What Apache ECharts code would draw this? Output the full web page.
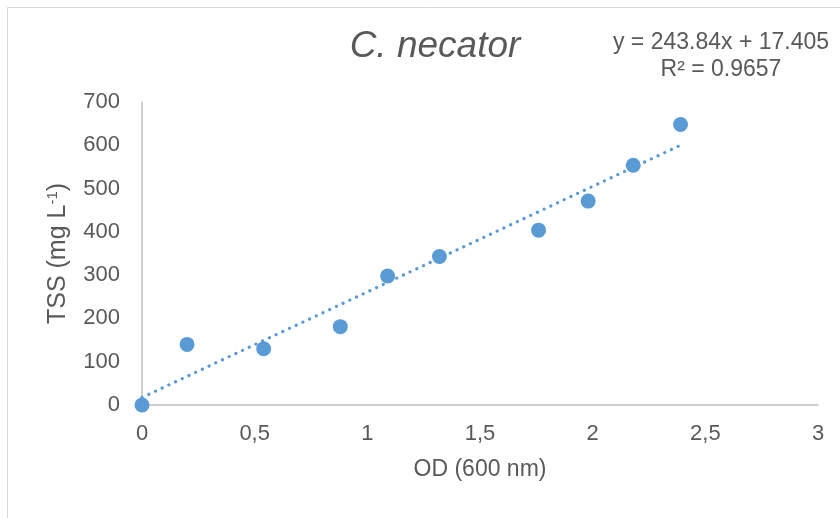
<!DOCTYPE html>
<html>
<head>
<meta charset="utf-8">
<script src="https://cdn.jsdelivr.net/npm/echarts@6/dist/echarts.min.js"></script>
<style>html,body{margin:0;padding:0;background:#fff}#c{width:840px;height:518px}</style>
</head>
<body>
<div id="c"></div>
<script>
const odValues = [0, 0.2, 0.54, 0.88, 1.09, 1.32, 1.76, 1.98, 2.18, 2.39];
const tssValues = [0, 140, 130, 181, 298, 343, 404, 471, 554, 648];
const trendPoints = [[0, 17.4], [2.39, 600.2]];
const xTicks = ['0', '0,5', '1', '1,5', '2', '2,5', '3'];
const titleText = 'C. necator';
const equationText = 'y = 243.84x + 17.405';
const r2Text = 'R² = 0.9657';

const chart = echarts.init(document.getElementById('c'), null, {renderer: 'canvas'});
const txt = '#595959';
const ff = 'Liberation Sans';
chart.setOption({
  animation: false,
  backgroundColor: '#fff',
  graphic: [
    {type: 'rect', shape: {x: 7.5, y: 7.5, width: 850, height: 520}, style: {fill: 'none', stroke: '#d9d9d9', lineWidth: 1}, silent: true, z: -1},
    {type: 'text', x: 435, y: 47, style: {text: titleText, fontFamily: ff, fontStyle: 'italic', fontSize: 37, fill: txt, textAlign: 'center', textVerticalAlign: 'middle'}},
    {type: 'text', x: 721, y: 43, style: {text: equationText, fontFamily: ff, fontSize: 23, fill: txt, textAlign: 'center', textVerticalAlign: 'middle'}},
    {type: 'text', x: 721, y: 70, style: {text: r2Text, fontFamily: ff, fontSize: 23, fill: txt, textAlign: 'center', textVerticalAlign: 'middle'}}
  ],
  grid: {left: 142, right: 22, top: 102, bottom: 113},
  xAxis: {
    type: 'value', min: 0, max: 3, interval: 0.5,
    name: 'OD (600 nm)', nameLocation: 'middle', nameGap: 53,
    nameTextStyle: {fontFamily: ff, fontSize: 23, color: txt},
    axisLine: {show: true, lineStyle: {color: '#bfbfbf', width: 1.5}},
    axisTick: {show: false},
    splitLine: {show: false},
    axisLabel: {margin: 18, fontFamily: ff, fontSize: 22, color: txt,
      formatter: v => xTicks[Math.round(v / 0.5)]}
  },
  yAxis: {
    type: 'value', min: 0, max: 700, interval: 100,
    name: '{a|TSS (mg L}{s|-1}{a|)}', nameLocation: 'middle', nameGap: 70,
    nameTextStyle: {rich: {
      a: {fontFamily: ff, fontSize: 25, color: txt},
      s: {fontFamily: ff, fontSize: 15, color: txt, verticalAlign: 'top', padding: [0, 0, 12, 0]}
    }},
    axisLine: {show: true, lineStyle: {color: '#bfbfbf', width: 1.5}},
    axisTick: {show: false},
    splitLine: {show: false},
    axisLabel: {margin: 22, fontFamily: ff, fontSize: 22, color: txt}
  },
  series: [
    {type: 'line', data: trendPoints, showSymbol: false, symbol: 'none',
     lineStyle: {color: '#5B9BD5', width: 3.2, type: [0.1, 7.3], cap: 'round'}, z: 2},
    {type: 'scatter', data: odValues.map((x, i) => [x, tssValues[i]]), symbolSize: 15,
     itemStyle: {color: '#5B9BD5', opacity: 1}, z: 3}
  ]
});
</script>
</body>
</html>
